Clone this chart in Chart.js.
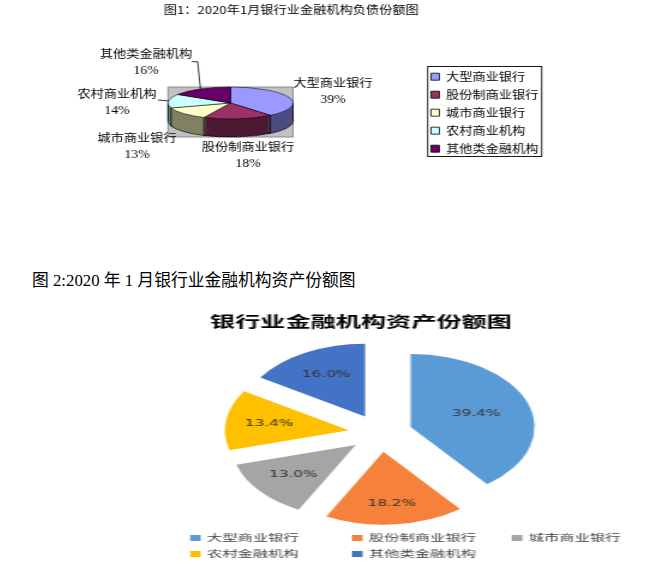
<!DOCTYPE html>
<html><head><meta charset="utf-8">
<style>
html,body{margin:0;padding:0;background:#fff;width:663px;height:573px;overflow:hidden}
#wrap{position:relative;width:663px;height:573px}
canvas{position:absolute;transform-origin:0 0}
#c1{left:32px;top:0;transform:scaleX(1.2)}
#c2{left:170px;top:300px;transform:scaleX(1.7)}
h2{position:absolute;left:32px;top:271px;margin:0;font:400 16.8px "Liberation Serif","Noto Sans CJK SC";color:#000;line-height:20px;white-space:pre}
</style></head><body>
<div id="wrap">
<canvas id="c1" width="432" height="180"></canvas>
<h2>图 2:2020 年 1 月银行业金融机构资产份额图</h2>
<canvas id="c2" width="276" height="273"></canvas>
</div>
<script src="https://cdn.jsdelivr.net/npm/chart.js@4"></script>
<script>
const title1 = "图1：2020年1月银行业金融机构负债份额图";
const categories1 = ["大型商业银行","股份制商业银行","城市商业银行","农村商业机构","其他类金融机构"];
const values1 = [39,18,13,14,16];
const colors1 = ["#9999FF","#993366","#FFFFCC","#CCFFFF","#660066"];
const sideColors1 = ["#4D4D80","#4D1A33","#808066","#668080","#330033"];

const title2 = "银行业金融机构资产份额图";
const categories2 = ["大型商业银行","股份制商业银行","城市商业银行","农村金融机构","其他类金融机构"];
const values2 = [39.4,18.2,13.0,13.4,16.0];
const colors2 = ["#5B9BD5","#F5813A","#A5A5A5","#FFC000","#4472C4"];

const SERIF = '"Liberation Serif","Noto Sans CJK SC"';
const CJK = '"Noto Sans CJK SC"';
const SX1 = 1.2, LEFT1 = 32;

/* ---- chart 1: tilted pie with a side wall ---- */
const tilt = {yScale:0.307, depth:18, pageX:230.5, pageY:103};
const labelPlace1 = [[333,83],[248,147],[137,138],[117,94],[146,54]];   // page px, label centre
const leaders1 = {3:[158,100], 4:[191.7,61.7,197.7,61.7]};              // page px, text end of leader
const px = X => (X-LEFT1)/SX1;

const pie3d = {
  id:'pie3d',
  beforeDatasetsDraw(chart){
    const ctx = chart.ctx, arcs = chart.getDatasetMeta(0).data;
    const {x:ax,y:ay,outerRadius:R} = arcs[0];
    const cx = px(tilt.pageX), top = tilt.pageY, ry = R*tilt.yScale;
    ctx.save();
    ctx.fillStyle='#C0C0C0'; ctx.fillRect(cx-R,top-ry,2*R,2*ry+tilt.depth);
    ctx.strokeStyle='#8C8C8C'; ctx.lineWidth=1;
    ctx.strokeRect(cx-R,top-ry,2*R,2*ry+tilt.depth);
    const place = dy => { ctx.translate(cx,top+dy); ctx.scale(1,tilt.yScale); ctx.translate(-ax,-ay); };
    // side wall: stacked copies of every slice, deepest first
    for(let d=tilt.depth;d>=1;d--){
      ctx.save(); place(d);
      arcs.forEach((a,i)=>{
        const o=a.options;
        a.options=Object.assign({},o,{backgroundColor:sideColors1[i],
          borderWidth:d===tilt.depth?1:0,borderColor:'#000'});
        a.draw(ctx); a.options=o;
      });
      ctx.restore();
    }
    // seams and silhouette of the wall
    ctx.strokeStyle='#000'; ctx.lineWidth=0.8; ctx.beginPath();
    arcs.forEach(a=>{
      const s=Math.sin(a.endAngle), c=Math.cos(a.endAngle);
      if(s>=-0.01){const x=cx+R*c,y=top+ry*s; ctx.moveTo(x,y); ctx.lineTo(x,y+tilt.depth);}
    });
    ctx.moveTo(cx-R,top); ctx.lineTo(cx-R,top+tilt.depth);
    ctx.moveTo(cx+R,top); ctx.lineTo(cx+R,top+tilt.depth);
    ctx.stroke();
    // top face
    ctx.save(); place(0);
    arcs.forEach(a=>a.draw(ctx));
    ctx.restore();
    ctx.restore();
    return false;
  },
  afterDraw(chart){
    const ctx=chart.ctx, arcs=chart.getDatasetMeta(0).data;
    const R=arcs[0].outerRadius, cx=px(tilt.pageX), top=tilt.pageY, ry=R*tilt.yScale;
    ctx.save();
    ctx.fillStyle='#000'; ctx.textAlign='center'; ctx.textBaseline='middle';
    chart.data.labels.forEach((t,i)=>{
      const [X,Y]=labelPlace1[i];
      ctx.font='11px '+CJK; ctx.fillText(t,px(X),Y);
      ctx.font='11.5px '+SERIF; ctx.fillText(values1[i]+'%',px(X),Y+16.5);
    });
    // leader lines end on the rim at each slice's middle
    ctx.strokeStyle='#000'; ctx.lineWidth=0.8;
    Object.keys(leaders1).forEach(k=>{
      const a=arcs[k], m=(a.startAngle+a.endAngle)/2, L=leaders1[k];
      ctx.beginPath(); ctx.moveTo(px(L[0]),L[1]);
      if(L.length>2) ctx.lineTo(px(L[2]),L[3]);
      ctx.lineTo(cx+R*Math.cos(m),top+ry*Math.sin(m));
      ctx.stroke();
    });
    // frame round the built-in legend
    ctx.strokeStyle='#000'; ctx.lineWidth=0.9;
    ctx.strokeRect(px(427.7),66.5,px(541.7)-px(427.7),90);
    ctx.restore();
  }
};

new Chart(document.getElementById('c1'),{
  type:'pie',
  data:{labels:categories1,datasets:[{data:values1,backgroundColor:colors1,borderColor:'#000',borderWidth:0.8,radius:52.1}]},
  options:{
    responsive:false,animation:false,devicePixelRatio:1,
    plugins:{
      tooltip:{enabled:false},
      title:{display:true,text:title1,color:'#000',font:{family:CJK,size:11,weight:'normal'},padding:{top:3,bottom:48}},
      legend:{position:'right',align:'start',fullSize:false,
        labels:{boxWidth:7,boxHeight:7,padding:7,color:'#000',font:{family:CJK,size:11}}}
    }
  },
  plugins:[pie3d]
});

/* ---- chart 2: exploded pie, the whole canvas is stretched sideways ---- */
const burst=18.8;
const labelReach=[0.56,0.72,0.65,0.65,0.65];
const legendCols=[11.8,107,201,11.8,107];
const legendRows=[238,238,238,254,254];

const exploded={
  id:'exploded',
  beforeDatasetsDraw(chart){
    const ctx=chart.ctx;
    chart.getDatasetMeta(0).data.forEach(a=>{
      const m=(a.startAngle+a.endAngle)/2;
      ctx.save(); ctx.translate(Math.cos(m)*burst,Math.sin(m)*burst); a.draw(ctx); ctx.restore();
    });
    return false;
  },
  afterDraw(chart){
    const ctx=chart.ctx;
    ctx.save();
    ctx.textBaseline='middle';
    chart.getDatasetMeta(0).data.forEach((a,i)=>{
      const m=(a.startAngle+a.endAngle)/2, r=burst+labelReach[i]*a.outerRadius;
      ctx.font='9px "DejaVu Sans"'; ctx.textAlign='center'; ctx.fillStyle='#333333';
      ctx.fillText(values2[i].toFixed(1)+'%',a.x+Math.cos(m)*r,a.y+Math.sin(m)*r);
      const x=legendCols[i], y=legendRows[i];
      ctx.fillStyle=colors2[i]; ctx.fillRect(x,y-3,6.3,6);
      ctx.font='9px '+CJK; ctx.textAlign='left'; ctx.fillStyle='#404040';
      ctx.fillText(chart.data.labels[i],x+10,y);
    });
    ctx.restore();
  }
};

new Chart(document.getElementById('c2'),{
  type:'pie',
  data:{labels:categories2,datasets:[{data:values2,backgroundColor:colors2,borderWidth:0,radius:72.9}]},
  options:{
    responsive:false,animation:false,devicePixelRatio:1,
    layout:{padding:{left:23.5,right:52,bottom:42.6}},
    plugins:{
      tooltip:{enabled:false},
      legend:{display:false},
      title:{display:true,text:title2,align:'start',color:'#000',font:{family:CJK,size:14.8,weight:'bold'},padding:{top:12,bottom:6}}
    }
  },
  plugins:[exploded]
});
</script>
</body></html>
